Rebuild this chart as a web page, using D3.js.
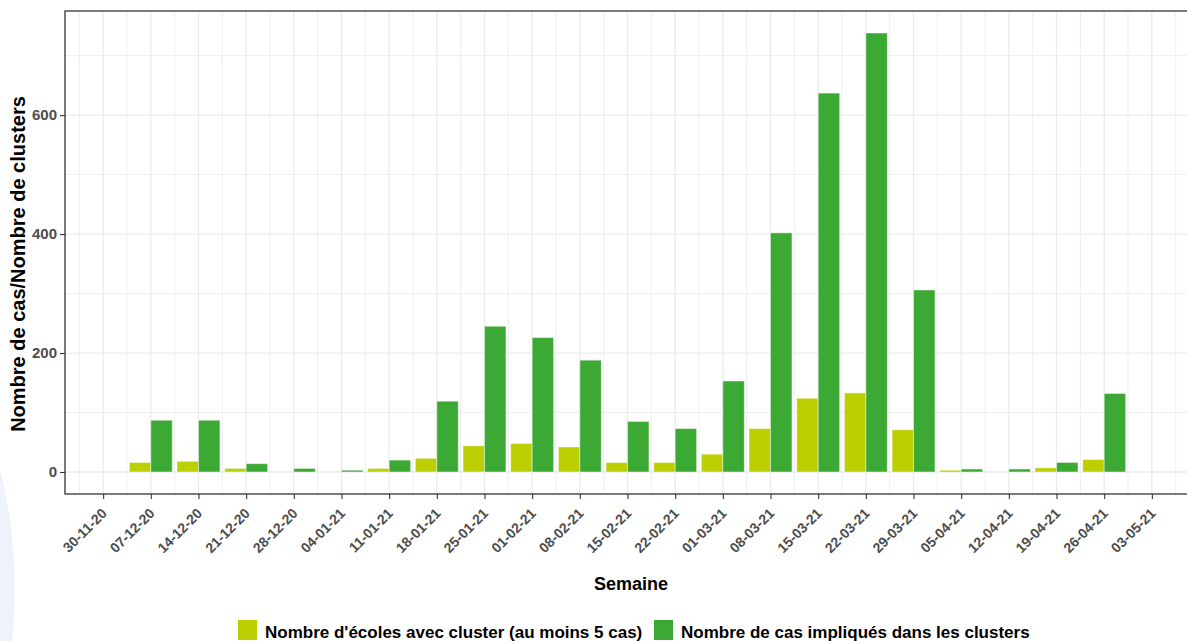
<!DOCTYPE html>
<html>
<head>
<meta charset="utf-8">
<script src="https://cdn.jsdelivr.net/npm/d3@7"></script>
<style>
  body { margin: 0; background: #fff; }
  text { font-family: "Liberation Sans", Arial, sans-serif; }
</style>
</head>
<body>
<div id="chart"></div>
<script>
// week labels (x axis ticks)
const weeks = ['30-11-20', '07-12-20', '14-12-20', '21-12-20', '28-12-20', '04-01-21', '11-01-21',
  '18-01-21', '25-01-21', '01-02-21', '08-02-21', '15-02-21', '22-02-21', '01-03-21', '08-03-21',
  '15-03-21', '22-03-21', '29-03-21', '05-04-21', '12-04-21', '19-04-21', '26-04-21', '03-05-21'];

// weeks that have data (07-12-20 .. 26-04-21)
const dataWeeks = weeks.slice(1, 22);
const ecoles = [16, 18, 6, 0, 0, 6, 23, 44, 48, 42, 16, 16, 30, 73, 124, 133, 71, 3, 0, 7, 21];
const cas = [87, 87, 14, 6, 3, 20, 119, 245, 226, 188, 85, 73, 153, 402, 637, 738, 306, 5, 5, 16, 132];

const seriesNames = ["Nombre d'écoles avec cluster (au moins 5 cas)", 'Nombre de cas impliqués dans les clusters'];
const colors = ['#bccf02', '#3ca935'];
const yTicks = [0, 200, 400, 600];

const W = 1187, H = 641;
const margin = { top: 11, left: 65, right: -3, bottom: 147 };
const width = W - margin.left - margin.right,
  height = H - margin.top - margin.bottom;

const svg = d3.select('#chart').append('svg')
  .attr('width', W).attr('height', H);

// faint background shape at left edge
svg.append('path')
  .attr('d', 'M0,470 C14,520 18,590 12,641 L0,641 Z')
  .attr('fill', '#eef3fb');

const g = svg.append('g')
  .attr('transform', 'translate(' + margin.left + ',' + margin.top + ')');

// x: week index
const x = d3.scaleLinear()
  .domain([-0.8, weeks.length - 1 + 0.8])
  .range([0, width]);

const y = d3.scaleLinear()
  .domain([-37, 775])
  .range([height, 0]);

// grid
const minorY = [100, 300, 500, 700];
g.selectAll('.gy-minor').data(minorY).enter().append('line')
  .attr('x1', 0).attr('x2', width)
  .attr('y1', d => y(d)).attr('y2', d => y(d))
  .attr('stroke', '#ebebeb').attr('stroke-width', 0.8);
g.selectAll('.gy').data(yTicks).enter().append('line')
  .attr('x1', 0).attr('x2', width)
  .attr('y1', d => y(d)).attr('y2', d => y(d))
  .attr('stroke', '#ebebeb').attr('stroke-width', 1.3);
const minorX = d3.range(-0.5, weeks.length, 1);
g.selectAll('.gx-minor').data(minorX).enter().append('line')
  .attr('y1', 0).attr('y2', height)
  .attr('x1', d => x(d)).attr('x2', d => x(d))
  .attr('stroke', '#ebebeb').attr('stroke-width', 0.8);
g.selectAll('.gx').data(weeks).enter().append('line')
  .attr('y1', 0).attr('y2', height)
  .attr('x1', (d, i) => x(i)).attr('x2', (d, i) => x(i))
  .attr('stroke', '#ebebeb').attr('stroke-width', 1.3);

// bars
const bw = 0.45;
[ecoles, cas].forEach((vals, s) => {
  g.selectAll('.bar' + s)
    .data(vals.map((v, i) => ({ v: v, i: weeks.indexOf(dataWeeks[i]) })).filter(d => d.v > 0))
    .enter().append('rect')
    .attr('x', d => x(d.i - bw + s * bw))
    .attr('width', x(bw) - x(0))
    .attr('y', d => y(d.v))
    .attr('height', d => y(0) - y(d.v))
    .attr('fill', colors[s])
    .attr('stroke', 'rgba(255,255,255,0.45)')
    .attr('stroke-width', 1);
});

// panel border
g.append('rect')
  .attr('x', 0).attr('y', 0).attr('width', width).attr('height', height)
  .attr('fill', 'none').attr('stroke', '#333').attr('stroke-width', 1.3);

// y axis
const yAxis = g.append('g')
  .call(d3.axisLeft(y).tickValues(yTicks).tickSize(5).tickPadding(3));
yAxis.select('.domain').remove();
yAxis.selectAll('line').attr('stroke', '#333').attr('stroke-width', 1.1);
yAxis.selectAll('text')
  .style('font-size', '15px').style('font-weight', 'bold').attr('fill', '#4d4d4d');

// x axis
const xAxis = g.append('g')
  .attr('transform', 'translate(0,' + height + ')')
  .call(d3.axisBottom(x).tickValues(d3.range(weeks.length)).tickFormat(i => weeks[i]).tickSize(5));
xAxis.select('.domain').remove();
xAxis.selectAll('line').attr('stroke', '#333').attr('stroke-width', 1.1);
xAxis.selectAll('text')
  .attr('y', 0).attr('dy', '0.72em')
  .attr('text-anchor', 'end')
  .attr('transform', 'translate(-3,13) rotate(-45)')
  .style('font-size', '14px').style('font-weight', 'bold').attr('fill', '#4d4d4d');

// axis titles
svg.append('text')
  .attr('x', 631).attr('y', 590)
  .attr('text-anchor', 'middle')
  .style('font-size', '18px').style('font-weight', 'bold')
  .text('Semaine');

svg.append('text')
  .attr('transform', 'translate(25,' + 264 + ') rotate(-90)')
  .attr('text-anchor', 'middle')
  .style('font-size', '20px').style('font-weight', 'bold')
  .text('Nombre de cas/Nombre de clusters');

// legend
const legend = svg.append('g').attr('class', 'legend');
const legX = [238, 654];
seriesNames.forEach((name, s) => {
  legend.append('rect')
    .attr('x', legX[s]).attr('y', 620).attr('width', 19).attr('height', 20)
    .attr('fill', colors[s]);
  legend.append('text')
    .attr('x', legX[s] + 27).attr('y', 638)
    .style('font-size', '17px').style('font-weight', 'bold')
    .text(name);
});
</script>
</body>
</html>
